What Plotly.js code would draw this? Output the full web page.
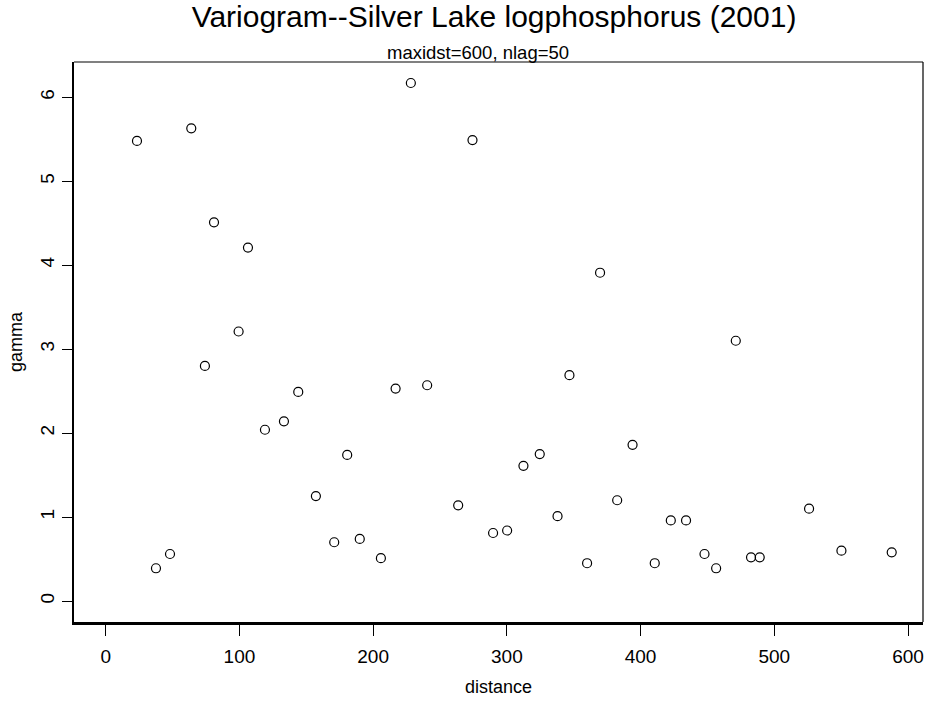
<!DOCTYPE html>
<html>
<head>
<meta charset="utf-8">
<script src="https://cdn.plot.ly/plotly-3.0.1.min.js"></script>
<style>html,body{margin:0;padding:0;background:#fff;}#chart{width:929px;height:704px;}</style>
</head>
<body>
<div id="chart"></div>
<script>
const distance = [23.4, 37.6, 48.1, 64.0, 74.2, 81.0, 99.4, 106.4, 119.1, 133.3, 144.0, 157.2, 170.9, 180.6, 190.0, 205.8, 216.8, 228.2, 240.4, 263.6, 274.3, 289.7, 300.2, 312.4, 324.6, 337.9, 346.8, 360.0, 369.7, 382.5, 394.0, 410.6, 422.6, 434.0, 447.8, 456.5, 471.2, 482.6, 489.1, 526.0, 550.2, 587.8];
const gamma = [5.48, 0.39, 0.56, 5.63, 2.80, 4.51, 3.21, 4.21, 2.04, 2.14, 2.49, 1.25, 0.70, 1.74, 0.74, 0.51, 2.53, 6.17, 2.57, 1.14, 5.49, 0.81, 0.84, 1.61, 1.75, 1.01, 2.69, 0.45, 3.91, 1.20, 1.86, 0.45, 0.96, 0.96, 0.56, 0.39, 3.10, 0.52, 0.52, 1.10, 0.60, 0.58];
const xTicks = [0, 100, 200, 300, 400, 500, 600];
const yTicks = [0, 1, 2, 3, 4, 5, 6];
const titleText = "Variogram--Silver Lake logphosphorus (2001)";
const subtitleText = "maxidst=600, nlag=50";

const font = "Liberation Sans, Arial, sans-serif";

const trace = {
  x: distance, y: gamma, type: "scatter", mode: "markers",
  marker: {symbol: "circle-open", size: 9, color: "#000", line: {width: 1.2, color: "#000"}},
  hoverinfo: "x+y"
};

const layout = {
  width: 929, height: 704,
  margin: {l: 74, r: 6, t: 62, b: 82},
  paper_bgcolor: "#fff", plot_bgcolor: "#fff",
  font: {family: font, color: "#000", size: 18},
  showlegend: false,
  title: {
    text: titleText, font: {family: font, size: 30, color: "#000"},
    x: 494/929, xanchor: "center", xref: "container",
    y: 1 - 16/704, yanchor: "middle", yref: "container"
  },
  xaxis: {
    range: [-23.7, 611.2], tickvals: xTicks, ticktext: xTicks.map(String),
    ticks: "outside", ticklen: 11, tickwidth: 1, tickcolor: "#000",
    showline: true, linecolor: "#000", linewidth: 2.5,
    showgrid: false, zeroline: false,
    tickfont: {family: font, size: 19, color: "#000"},
    ticklabelstandoff: 5,
    title: {text: "distance", font: {family: font, size: 18, color: "#000"}, standoff: 14}
  },
  yaxis: {
    range: [-0.25, 6.42], tickvals: yTicks, ticktext: yTicks.map(String),
    ticks: "outside", ticklen: 10, tickwidth: 1, tickcolor: "#000",
    showline: true, linecolor: "#000", linewidth: 2.5,
    showgrid: false, zeroline: false, tickangle: -90,
    tickfont: {family: font, size: 19, color: "#000"},
    ticklabelstandoff: 0,
    title: {text: "gamma", font: {family: font, size: 18, color: "#000"}, standoff: 10}
  },
  shapes: [
    {type: "line", xref: "paper", yref: "paper", x0: 0, x1: 1, y0: 1, y1: 1, line: {color: "#808080", width: 2}},
    {type: "line", xref: "paper", yref: "paper", x0: 1, x1: 1, y0: 0, y1: 1, line: {color: "#000", width: 1.2}}
  ],
  annotations: [
    {text: subtitleText, xref: "paper", yref: "paper", x: 0.476, y: 1, xanchor: "center", yanchor: "bottom", yshift: -3, showarrow: false,
     font: {family: font, size: 18.5, color: "#000"}}
  ]
};

Plotly.newPlot("chart", [trace], layout, {displayModeBar: false, staticPlot: true});
</script>
</body>
</html>
